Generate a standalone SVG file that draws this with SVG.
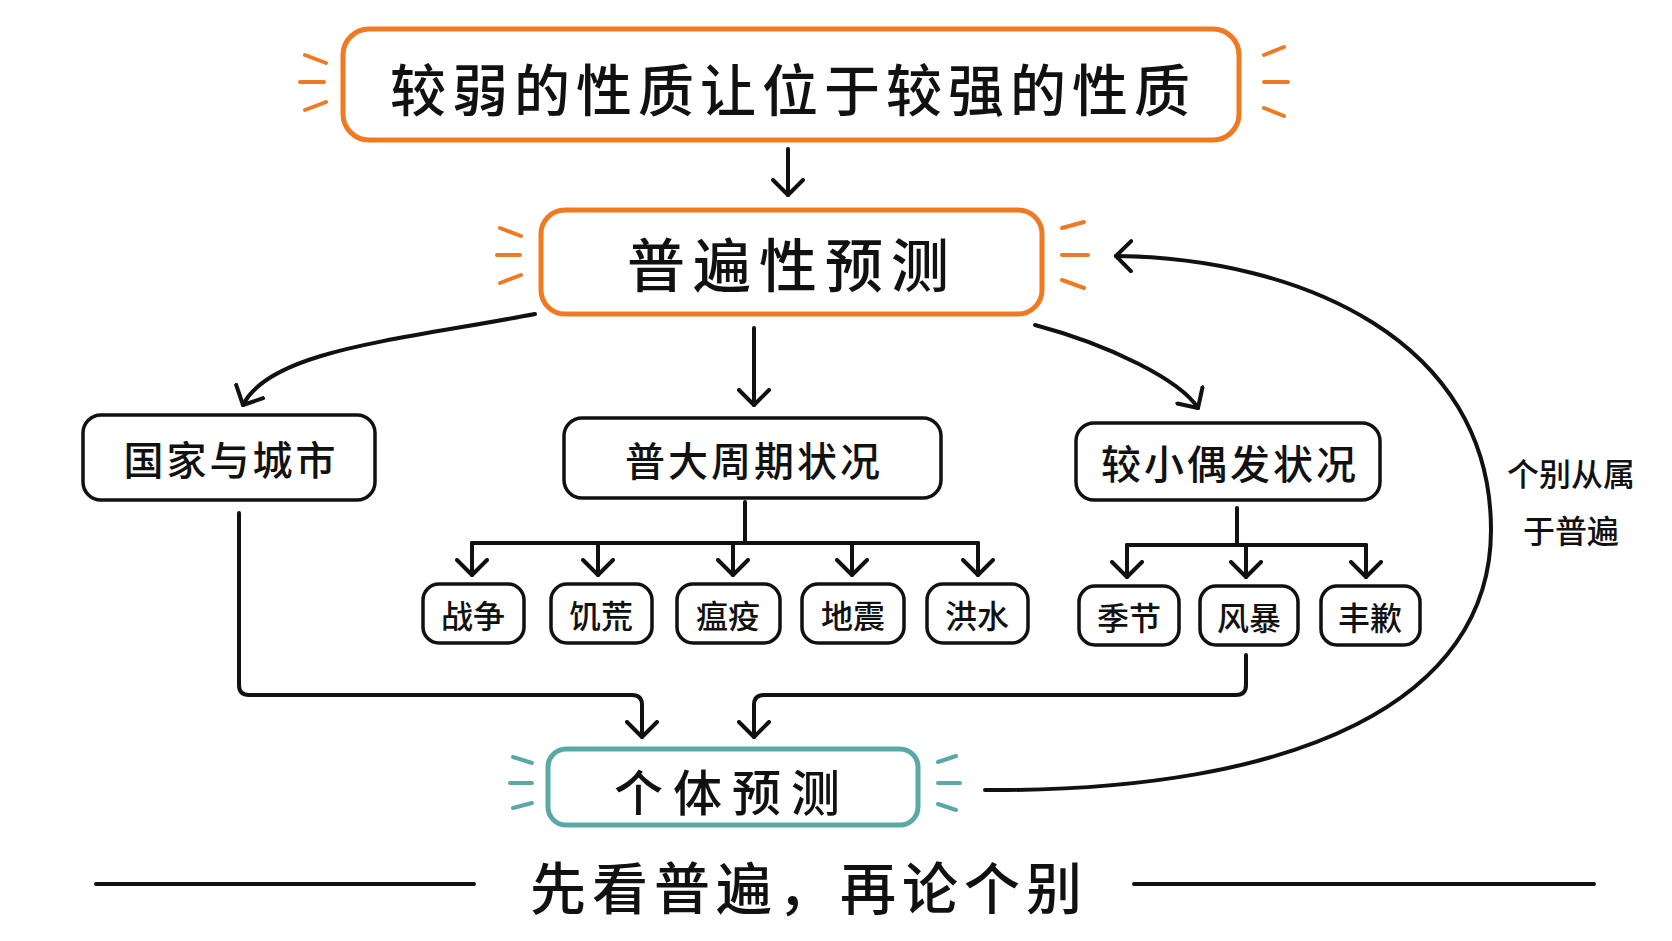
<svg xmlns="http://www.w3.org/2000/svg" width="1672" height="941" viewBox="0 0 1672 941">
<style>
text{font-family:"Noto Sans CJK SC","Noto Sans",sans-serif;fill:#111;text-anchor:middle;dominant-baseline:central;font-weight:500}
.n{fill:#fff;stroke:#111;stroke-width:3.5}
.o{fill:#fff;stroke:#f07a22;stroke-width:5}
.t{fill:#fff;stroke:#5aa9a6;stroke-width:5}
.c{fill:none;stroke:#111;stroke-width:4;stroke-linecap:round;stroke-linejoin:round}
.so{stroke:#f07a22;stroke-width:4;stroke-linecap:round}
.st{stroke:#5aa9a6;stroke-width:4;stroke-linecap:round}
</style>
<defs>
<marker id="b" markerWidth="34" markerHeight="34" refX="17" refY="17" orient="auto" markerUnits="userSpaceOnUse" viewBox="0 0 34 34"><path d="M2,2 L17,17 L2,32" fill="none" stroke="#111" stroke-width="4" stroke-linecap="round" stroke-linejoin="round"/></marker></defs>
<rect width="1672" height="941" fill="#fff"/>
<g id="connectors">
<path class="c" d="M788,149 V195" marker-end="url(#b)"/>
<path class="c" d="M754,328 V405" marker-end="url(#b)"/>
<path class="c" d="M535,314 C400,340 270,350 243,405" marker-end="url(#b)"/>
<path class="c" d="M1035,325 C1110,345 1180,380 1198,408" marker-end="url(#b)"/>
<path class="c" d="M745,502 V543 M472,543 H978 M1237,508 V545 M1127,545 H1366"/>
<path class="c" d="M472,543 V575" marker-end="url(#b)"/>
<path class="c" d="M598,543 V575" marker-end="url(#b)"/>
<path class="c" d="M733,543 V575" marker-end="url(#b)"/>
<path class="c" d="M852,543 V575" marker-end="url(#b)"/>
<path class="c" d="M978,543 V575" marker-end="url(#b)"/>
<path class="c" d="M1127,545 V577" marker-end="url(#b)"/>
<path class="c" d="M1246,545 V577" marker-end="url(#b)"/>
<path class="c" d="M1366,545 V577" marker-end="url(#b)"/>
<path class="c" d="M239,513 V685 Q239,695 249,695 H632 Q642,695 642,705 V737" marker-end="url(#b)"/>
<path class="c" d="M1246,655 V685 Q1246,695 1236,695 H764 Q754,695 754,705 V737" marker-end="url(#b)"/>
<path class="c" d="M985,790 C1300,792 1491,700 1491,530 C1491,340 1300,258 1116,256" marker-end="url(#b)"/>
</g>
<g id="sparks">
<path class="so" d="M305,55 L326,63 M300,82 L324,82 M305,110 L326,102 M1264,55 L1284,47 M1264,82 L1288,82 M1264,108 L1284,116 M500,228 L521,236 M497,255 L520,255 M500,283 L521,275 M1062,228 L1084,222 M1062,255 L1088,255 M1062,280 L1084,288"/>
<path class="st" d="M513,757 L532,763 M510,783 L532,783 M513,808 L532,803 M938,762 L956,756 M938,783 L960,783 M938,804 L956,810"/>
</g>
<g id="top"><rect class="o" x="343" y="29" width="896" height="111" rx="26"/><text x="793" y="86" font-size="56" letter-spacing="6">较弱的性质让位于较强的性质</text></g>
<g id="universal"><rect class="o" x="541" y="210" width="501" height="104" rx="24"/><text x="792" y="262" font-size="58" letter-spacing="8">普遍性预测</text></g>
<g id="country"><rect class="n" x="83" y="415" width="292" height="85" rx="18"/><text x="231" y="458" font-size="40" letter-spacing="3">国家与城市</text></g>
<g id="major"><rect class="n" x="564" y="418" width="377" height="80" rx="18"/><text x="754" y="459" font-size="40" letter-spacing="3">普大周期状况</text></g>
<g id="minor"><rect class="n" x="1076" y="423" width="304" height="77" rx="18"/><text x="1230" y="462" font-size="40" letter-spacing="3">较小偶发状况</text></g>
<g id="n1"><rect class="n" x="423" y="584" width="101" height="59" rx="16"/><text x="473" y="614" font-size="32">战争</text></g>
<g id="n2"><rect class="n" x="551" y="584" width="101" height="59" rx="16"/><text x="601" y="614" font-size="32">饥荒</text></g>
<g id="n3"><rect class="n" x="677" y="584" width="103" height="59" rx="16"/><text x="728" y="614" font-size="32">瘟疫</text></g>
<g id="n4"><rect class="n" x="802" y="584" width="102" height="59" rx="16"/><text x="853" y="614" font-size="32">地震</text></g>
<g id="n5"><rect class="n" x="927" y="584" width="101" height="59" rx="16"/><text x="977" y="614" font-size="32">洪水</text></g>
<g id="n6"><rect class="n" x="1079" y="586" width="100" height="59" rx="16"/><text x="1129" y="616" font-size="32">季节</text></g>
<g id="n7"><rect class="n" x="1200" y="586" width="98" height="59" rx="16"/><text x="1249" y="616" font-size="32">风暴</text></g>
<g id="n8"><rect class="n" x="1321" y="586" width="99" height="59" rx="16"/><text x="1370" y="616" font-size="32">丰歉</text></g>
<g id="individual"><rect class="t" x="548" y="749" width="370" height="76" rx="18"/><text x="732" y="789" font-size="49" letter-spacing="10">个体预测</text></g>
<g id="label"><text x="1571" y="472" font-size="32">个别从属</text><text x="1571" y="529" font-size="32">于普遍</text></g>
<g id="footer"><path class="c" d="M96,884 H474 M1134,884 H1594"/><text x="809" y="884" font-size="56" letter-spacing="6">先看普遍，再论个别</text></g>
</svg>
